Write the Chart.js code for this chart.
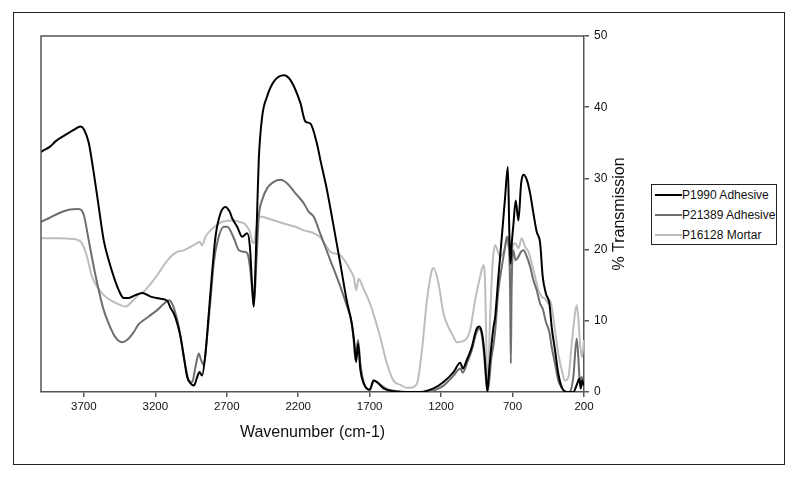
<!DOCTYPE html>
<html>
<head>
<meta charset="utf-8">
<script src="https://cdn.jsdelivr.net/npm/chart.js@4.4.1/dist/chart.umd.min.js"></script>
<style>
  body { margin: 0; background: #fff; }
  #wrap { position: relative; width: 800px; height: 481px; font-family: "Liberation Sans", Arial, sans-serif; }
  #frame { position: absolute; left: 13px; top: 12px; width: 770px; height: 451px; border: 1.5px solid #222; }
  #chart { position: absolute; left: 0; top: 0; }
  #legend { position: absolute; left: 651px; top: 184px; width: 124px; height: 59px; border: 1.5px solid #222; background: #fff; }
  .item { position: absolute; left: 3px; height: 20px; line-height: 20px; font-size: 12px; color: #111; white-space: nowrap; }
  .item span { display: inline-block; width: 27px; height: 2px; vertical-align: middle; margin-top: -2px; }
</style>
</head>
<body>
<div id="wrap">
  <div id="frame"></div>
  <canvas id="chart" width="800" height="481"></canvas>
  <div id="legend"></div>
</div>
<script>
// wavenumber (cm-1) and % transmission
const p1990Wn = [4000, 3993, 3934, 3899, 3829, 3771, 3724, 3700, 3666, 3631, 3596, 3561, 3526, 3491, 3456, 3421, 3386, 3340, 3291, 3233, 3163, 3116, 3093, 3070, 3046, 3023, 3000, 2977, 2953, 2930, 2907, 2891, 2873, 2849, 2826, 2803, 2779, 2744, 2709, 2679, 2662, 2627, 2592, 2557, 2538, 2522, 2511, 2499, 2487, 2476, 2452, 2418, 2371, 2301, 2254, 2185, 2150, 2115, 2068, 2045, 2000, 1963, 1905, 1858, 1823, 1807, 1795, 1781, 1765, 1742, 1700, 1672, 1649, 1603, 1533, 1450, 1346, 1253, 1183, 1113, 1066, 1048, 1020, 985, 955, 934, 915, 899, 885, 876, 862, 834, 822, 799, 775, 752, 733, 722, 714, 705, 694, 678, 659, 640, 624, 600, 577, 554, 531, 507, 489, 466, 442, 426, 403, 380, 356, 321, 275, 247, 233, 223, 212, 200];
const p1990T = [33.7, 33.8, 34.5, 35.2, 36.1, 36.8, 37.3, 36.9, 35.0, 30.8, 26.0, 21.3, 18.5, 16.2, 14.3, 13.2, 13.2, 13.6, 13.9, 13.4, 13.1, 12.8, 11.8, 11.0, 9.6, 7.7, 4.9, 2.1, 1.2, 0.9, 2.1, 2.8, 2.3, 5.4, 11.0, 16.7, 21.8, 25.1, 26.0, 25.3, 24.4, 23.2, 21.8, 22.3, 20.4, 14.8, 12.0, 17.6, 25.6, 32.6, 38.7, 41.5, 43.6, 44.5, 43.8, 40.6, 38.0, 37.7, 34.8, 32.6, 28.5, 24.5, 18.0, 12.6, 9.4, 6.8, 4.2, 6.8, 3.1, 1.2, 0.3, 1.6, 1.4, 0.5, 0.1, 0, 0, 0.5, 1.4, 2.8, 4.1, 3.3, 4.5, 6.3, 8.7, 9.2, 8.4, 5.9, 2.1, 0.1, 3.5, 9.0, 10.5, 16.2, 21.8, 27.4, 31.6, 22.0, 18.0, 21.0, 23.5, 26.9, 24.1, 29.3, 30.5, 29.8, 27.9, 25.1, 22.5, 20.9, 16.2, 13.8, 12.4, 9.1, 5.9, 2.6, 0.7, 0, 0, 1.2, 1.9, 0.5, 1.6, 0.9];

const p21389Wn = [4000, 3946, 3876, 3806, 3736, 3701, 3666, 3631, 3596, 3561, 3526, 3480, 3433, 3398, 3351, 3321, 3280, 3233, 3187, 3140, 3105, 3082, 3058, 3035, 3012, 2988, 2965, 2942, 2919, 2896, 2880, 2861, 2838, 2814, 2791, 2763, 2721, 2697, 2650, 2615, 2580, 2557, 2538, 2522, 2511, 2492, 2476, 2452, 2418, 2371, 2324, 2277, 2219, 2161, 2126, 2091, 2045, 1975, 1905, 1858, 1830, 1812, 1800, 1781, 1765, 1742, 1700, 1672, 1637, 1579, 1509, 1400, 1300, 1253, 1183, 1113, 1066, 1048, 1020, 985, 955, 934, 915, 899, 885, 876, 862, 850, 834, 822, 799, 775, 752, 738, 724, 717, 712, 707, 696, 678, 659, 640, 624, 600, 577, 554, 531, 507, 489, 466, 442, 426, 403, 380, 356, 321, 298, 275, 251, 240, 228, 216, 207, 200];
const p21389T = [23.9, 24.4, 25.1, 25.6, 25.7, 24.9, 21.3, 17.6, 14.3, 11.5, 9.6, 7.7, 7.0, 7.3, 8.4, 9.4, 10.1, 10.8, 11.5, 12.4, 12.9, 12.4, 11.0, 9.1, 6.3, 3.5, 1.6, 1.4, 3.5, 5.4, 4.5, 3.8, 7.7, 12.9, 18.1, 21.3, 23.2, 23.2, 21.6, 19.9, 19.7, 19.5, 17.6, 14.3, 12.0, 18.5, 24.6, 27.0, 28.6, 29.5, 29.8, 29.3, 27.9, 26.5, 25.3, 24.6, 22.2, 18.5, 14.8, 12.0, 10.1, 7.3, 4.5, 7.3, 4.0, 1.4, 0.3, 1.6, 1.2, 0.4, 0.1, 0, 0.05, 0.2, 0.9, 2.3, 3.3, 2.7, 4.0, 5.9, 8.2, 8.9, 8.0, 5.2, 1.6, 0, 1.8, 4.5, 6.5, 8.5, 14.3, 17.6, 20.4, 21.8, 19.9, 13.8, 4.0, 13.8, 19.9, 18.5, 19.0, 19.7, 19.9, 19.0, 17.6, 15.7, 14.3, 12.4, 11.7, 9.8, 8.4, 6.3, 4.0, 1.6, 0.6, 0, 0.1, 2.1, 7.5, 4.9, 1.2, 2.1, 1.2, 0.8];

const p16128Wn = [4000, 3876, 3780, 3736, 3713, 3678, 3643, 3608, 3561, 3514, 3456, 3409, 3363, 3321, 3280, 3233, 3187, 3140, 3093, 3046, 3000, 2953, 2907, 2891, 2873, 2849, 2814, 2779, 2744, 2709, 2679, 2650, 2615, 2580, 2557, 2538, 2522, 2511, 2492, 2476, 2452, 2418, 2324, 2219, 2161, 2091, 2049, 1975, 1905, 1835, 1810, 1795, 1777, 1745, 1695, 1626, 1579, 1533, 1486, 1440, 1416, 1369, 1334, 1299, 1264, 1253, 1218, 1183, 1148, 1120, 1090, 1032, 997, 962, 927, 904, 892, 880, 874, 857, 838, 822, 799, 787, 763, 752, 740, 728, 717, 712, 705, 682, 659, 636, 612, 589, 566, 542, 519, 496, 472, 449, 437, 426, 403, 380, 356, 333, 309, 286, 263, 251, 240, 228, 216, 205, 200];
const p16128T = [21.6, 21.6, 21.5, 21.3, 20.9, 19.0, 16.2, 14.8, 13.6, 12.9, 12.3, 12.0, 12.7, 13.6, 14.1, 15.2, 16.4, 17.8, 19.0, 19.7, 19.9, 20.4, 20.9, 21.1, 20.6, 21.8, 22.7, 23.3, 23.8, 24.0, 24.1, 24.1, 23.9, 23.7, 23.2, 22.5, 21.1, 20.9, 23.2, 24.6, 24.6, 24.4, 23.8, 23.2, 22.7, 22.3, 21.8, 19.7, 19.2, 17.1, 16.0, 14.3, 15.9, 14.6, 12.3, 7.7, 4.0, 1.6, 1.0, 0.6, 0.6, 1.2, 5.9, 12.9, 17.1, 17.4, 15.2, 11.0, 9.1, 8.0, 7.0, 7.3, 8.7, 12.9, 16.2, 17.8, 15.2, 3.5, 0.2, 10.5, 18.5, 20.6, 19.5, 19.0, 19.7, 20.4, 21.8, 20.4, 19.9, 13.8, 19.9, 20.9, 20.2, 21.6, 20.4, 19.7, 18.1, 16.2, 14.3, 13.4, 13.1, 12.4, 12.9, 12.0, 8.7, 5.4, 3.1, 1.6, 2.1, 6.8, 11.0, 12.2, 10.5, 6.8, 4.9, 6.3, 7.3];

const seriesNames = ['P1990 Adhesive', 'P21389 Adhesive', 'P16128 Mortar'];
const seriesColors = ['#000000', '#6e6e6e', '#bdbdbd'];
const xTicks = [3700, 3200, 2700, 2200, 1700, 1200, 700, 200];
const yTicks = [0, 10, 20, 30, 40, 50];

const FONT = '"Liberation Sans", Arial, sans-serif';
const AXIS = '#555555';

function pairs(xs, ys) {
  return xs.map((x, i) => ({ x: x, y: ys[i] }));
}

const allData = [pairs(p1990Wn, p1990T), pairs(p21389Wn, p21389T), pairs(p16128Wn, p16128T)];

// legend
const legend = document.getElementById('legend');
seriesNames.forEach((name, i) => {
  const row = document.createElement('div');
  row.className = 'item';
  row.style.top = (i * 20) + 'px';
  row.innerHTML = `<span style="background:${seriesColors[i]}"></span>${name}`;
  legend.appendChild(row);
});

// top and left edges of the plot frame + rotated y title
const framePlugin = {
  id: 'framePlugin',
  afterDraw(chart) {
    const { ctx, chartArea } = chart;
    ctx.save();
    ctx.strokeStyle = AXIS;
    ctx.lineWidth = 1.5;
    ctx.beginPath();
    ctx.moveTo(chartArea.left, chartArea.bottom);
    ctx.lineTo(chartArea.left, chartArea.top);
    ctx.lineTo(chartArea.right, chartArea.top);
    ctx.stroke();
    ctx.translate(620, (chartArea.top + chartArea.bottom) / 2);
    ctx.rotate(-Math.PI / 2);
    ctx.font = '16px ' + FONT;
    ctx.fillStyle = '#111';
    ctx.textAlign = 'center';
    ctx.textBaseline = 'middle';
    ctx.fillText('% Transmission', 0, 0);
    ctx.restore();
  }
};

new Chart(document.getElementById('chart'), {
  type: 'line',
  data: {
    datasets: allData.map((d, i) => ({
      label: seriesNames[i],
      data: d,
      borderColor: seriesColors[i],
      backgroundColor: seriesColors[i],
      borderWidth: 2,
      pointRadius: 0,
      fill: false,
      cubicInterpolationMode: 'monotone'
    }))
  },
  options: {
    responsive: false,
    animation: false,
    devicePixelRatio: 1,
    layout: { padding: { left: 41, top: 36, right: 176, bottom: 39 } },
    plugins: {
      legend: { display: false },
      tooltip: { enabled: false }
    },
    scales: {
      x: {
        type: 'linear',
        reverse: true,
        min: 200,
        max: 4000,
        afterBuildTicks: s => { s.ticks = xTicks.map(v => ({ value: v })); },
        afterFit: s => { s.height = 50; },
        grid: { display: true, drawOnChartArea: false, drawTicks: true, tickLength: 5, color: AXIS, lineWidth: 1.5 },
        border: { display: true, color: AXIS, width: 1.5 },
        ticks: { padding: 3, color: '#111', font: { family: FONT, size: 11.5 }, maxRotation: 0, callback: v => String(v) },
        title: { display: true, text: 'Wavenumber (cm-1)', color: '#111', font: { family: FONT, size: 16 }, padding: { top: 0, bottom: 0 } }
      },
      y: {
        position: 'right',
        min: 0,
        max: 50,
        afterBuildTicks: s => { s.ticks = yTicks.map(v => ({ value: v })); },
        afterFit: s => { s.width = 40; },
        grid: { display: true, drawOnChartArea: false, drawTicks: true, tickLength: 5, color: AXIS, lineWidth: 1.5 },
        border: { display: true, color: AXIS, width: 1.5 },
        ticks: { padding: 5, color: '#111', font: { family: FONT, size: 12 } }
      }
    }
  },
  plugins: [framePlugin]
});
</script>
</body>
</html>
